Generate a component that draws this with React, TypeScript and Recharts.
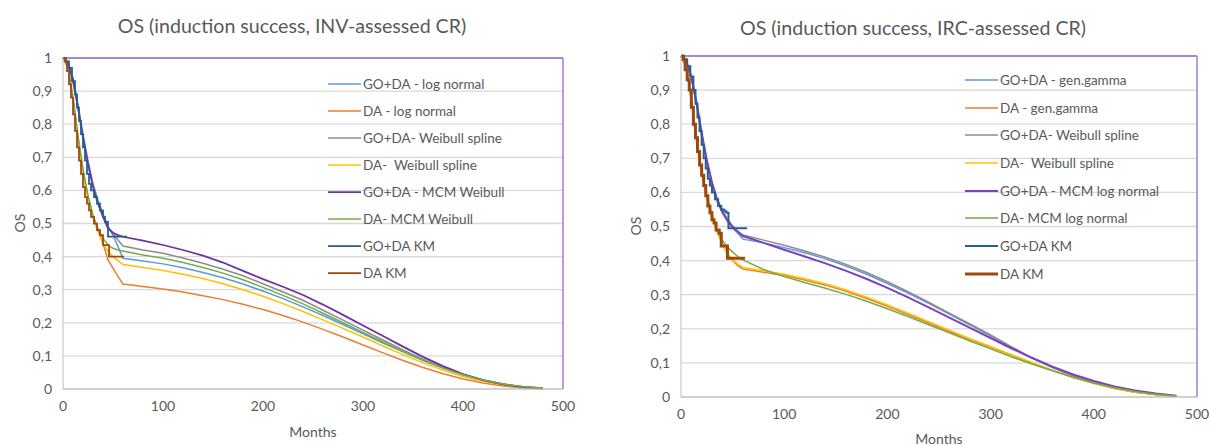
import React from "react";
import { LineChart, Line, XAxis, YAxis, CartesianGrid, ReferenceLine, Legend } from "recharts";

// model curves share one month grid: 0..55 by 5, then 60..480 by 20
const modelMonths = [
  0, 5, 10, 15, 20, 25, 30, 35, 40, 45, 50, 55,
  60, 80, 100, 120, 140, 160, 180, 200, 220, 240, 260, 280, 300, 320, 340, 360, 380, 400, 420, 440, 460, 480,
];

// INV-assessed CR (left)
const invGoDaLogNormal = [
  1, 0.985, 0.94, 0.86, 0.77, 0.69, 0.62, 0.57, 0.53, 0.49, 0.465, 0.43,
  0.395, 0.387, 0.378, 0.366, 0.352, 0.336, 0.317, 0.296, 0.273, 0.248, 0.222, 0.195, 0.167, 0.139, 0.112, 0.086, 0.063, 0.043, 0.027, 0.015, 0.007, 0.002,
];
const invDaLogNormal = [
  1, 0.97, 0.88, 0.76, 0.66, 0.58, 0.52, 0.48, 0.44, 0.39, 0.365, 0.34,
  0.317, 0.31, 0.302, 0.293, 0.282, 0.27, 0.256, 0.24, 0.222, 0.202, 0.18, 0.157, 0.133, 0.109, 0.086, 0.065, 0.046, 0.03, 0.018, 0.009, 0.004, 0.001,
];
const invGoDaWeibullSpline = [
  1, 0.98, 0.925, 0.85, 0.76, 0.68, 0.615, 0.565, 0.525, 0.49, 0.47, 0.45,
  0.432, 0.42, 0.41, 0.396, 0.38, 0.362, 0.342, 0.318, 0.293, 0.268, 0.238, 0.208, 0.178, 0.148, 0.118, 0.09, 0.065, 0.044, 0.027, 0.015, 0.007, 0.003,
];
const invDaWeibullSpline = [
  1, 0.97, 0.875, 0.75, 0.65, 0.575, 0.52, 0.475, 0.44, 0.415, 0.4, 0.388,
  0.376, 0.367, 0.358, 0.347, 0.334, 0.318, 0.3, 0.28, 0.258, 0.234, 0.209, 0.183, 0.157, 0.13, 0.104, 0.079, 0.057, 0.038, 0.023, 0.012, 0.005, 0.002,
];
const invGoDaMcmWeibull = [
  1, 0.985, 0.935, 0.85, 0.76, 0.68, 0.61, 0.56, 0.52, 0.485, 0.472, 0.465,
  0.46, 0.448, 0.435, 0.42, 0.403, 0.382, 0.357, 0.332, 0.309, 0.284, 0.255, 0.224, 0.192, 0.16, 0.128, 0.097, 0.069, 0.045, 0.027, 0.014, 0.006, 0.002,
];
const invDaMcmWeibull = [
  1, 0.97, 0.88, 0.765, 0.665, 0.585, 0.525, 0.485, 0.455, 0.435, 0.425, 0.42,
  0.417, 0.405, 0.395, 0.382, 0.367, 0.35, 0.33, 0.307, 0.283, 0.257, 0.229, 0.2, 0.171, 0.142, 0.114, 0.087, 0.063, 0.043, 0.027, 0.015, 0.007, 0.003,
];
const invGoDaKmMonths = [0, 3, 6, 9, 12, 14, 16, 18, 20, 22, 24, 26, 28, 31, 34, 37, 40, 42, 45, 64];
const invGoDaKm = [1, 0.99, 0.97, 0.93, 0.89, 0.85, 0.81, 0.77, 0.73, 0.69, 0.65, 0.62, 0.6, 0.58, 0.56, 0.54, 0.52, 0.505, 0.46, 0.46];
const invDaKmMonths = [0, 2, 4, 6, 8, 10, 12, 14, 16, 18, 20, 22, 24, 26, 28, 31, 34, 37, 40, 46, 61];
const invDaKm = [1, 0.99, 0.96, 0.92, 0.88, 0.83, 0.78, 0.73, 0.69, 0.65, 0.61, 0.58, 0.56, 0.54, 0.52, 0.5, 0.48, 0.465, 0.435, 0.4, 0.4];

// IRC-assessed CR (right)
const ircGoDaGenGamma = [
  1, 0.985, 0.935, 0.86, 0.77, 0.69, 0.625, 0.575, 0.54, 0.515, 0.495, 0.48,
  0.463, 0.452, 0.438, 0.423, 0.405, 0.384, 0.36, 0.333, 0.305, 0.275, 0.243, 0.211, 0.179, 0.146, 0.114, 0.086, 0.062, 0.042, 0.026, 0.015, 0.007, 0.003,
];
const ircDaGenGamma = [
  1, 0.97, 0.87, 0.75, 0.655, 0.585, 0.53, 0.485, 0.45, 0.42, 0.4, 0.385,
  0.375, 0.366, 0.356, 0.343, 0.328, 0.31, 0.289, 0.266, 0.242, 0.217, 0.192, 0.168, 0.146, 0.123, 0.1, 0.078, 0.057, 0.04, 0.025, 0.014, 0.007, 0.002,
];
const ircGoDaWeibullSpline = [
  1, 0.985, 0.935, 0.86, 0.77, 0.69, 0.625, 0.575, 0.54, 0.515, 0.497, 0.485,
  0.475, 0.46, 0.445, 0.428, 0.41, 0.389, 0.365, 0.338, 0.309, 0.278, 0.246, 0.214, 0.182, 0.148, 0.115, 0.086, 0.062, 0.042, 0.026, 0.015, 0.007, 0.003,
];
const ircDaWeibullSpline = [
  1, 0.97, 0.87, 0.75, 0.655, 0.585, 0.53, 0.485, 0.45, 0.42, 0.402, 0.39,
  0.38, 0.37, 0.36, 0.347, 0.332, 0.314, 0.293, 0.27, 0.246, 0.221, 0.196, 0.171, 0.148, 0.124, 0.101, 0.078, 0.057, 0.04, 0.025, 0.014, 0.007, 0.002,
];
const ircGoDaMcmLogNormal = [
  1, 0.985, 0.94, 0.865, 0.775, 0.695, 0.63, 0.58, 0.545, 0.52, 0.5, 0.485,
  0.472, 0.452, 0.432, 0.412, 0.392, 0.37, 0.346, 0.32, 0.292, 0.263, 0.233, 0.203, 0.173, 0.143, 0.115, 0.089, 0.066, 0.047, 0.031, 0.019, 0.01, 0.004,
];
const ircDaMcmLogNormal = [
  1, 0.97, 0.875, 0.76, 0.665, 0.59, 0.535, 0.49, 0.46, 0.44, 0.425, 0.412,
  0.402, 0.374, 0.353, 0.336, 0.319, 0.301, 0.281, 0.259, 0.236, 0.212, 0.188, 0.164, 0.141, 0.118, 0.097, 0.077, 0.058, 0.041, 0.027, 0.016, 0.008, 0.003,
];
const ircGoDaKmMonths = [0, 3, 6, 9, 12, 14, 16, 18, 20, 22, 24, 26, 28, 30, 33, 36, 39, 42, 44, 46, 64];
const ircGoDaKm = [1, 0.99, 0.97, 0.94, 0.9, 0.86, 0.82, 0.78, 0.74, 0.7, 0.67, 0.64, 0.62, 0.6, 0.58, 0.56, 0.55, 0.545, 0.54, 0.495, 0.495];
const ircDaKmMonths = [0, 2, 4, 6, 8, 10, 12, 14, 16, 18, 20, 22, 24, 26, 28, 30, 32, 34, 37, 39, 45, 62];
const ircDaKm = [1, 0.99, 0.96, 0.93, 0.9, 0.85, 0.8, 0.76, 0.72, 0.68, 0.65, 0.62, 0.59, 0.56, 0.54, 0.52, 0.51, 0.49, 0.48, 0.443, 0.407, 0.407];

const yTicks = [0, 0.1, 0.2, 0.3, 0.4, 0.5, 0.6, 0.7, 0.8, 0.9, 1];
const xTicks = [0, 100, 200, 300, 400, 500];

const FONT = "Lato, 'Open Sans', sans-serif";
const TEXT = "#595959";
const BORDER = "#9a66cc";

const toPoints = (months: number[], values: number[]) => months.map((t, i) => ({ t, s: values[i] }));

type Series = { name: string; months: number[]; values: number[]; color: string; width: number; step?: boolean };

const leftSeries: Series[] = [
  { name: "GO+DA - log normal", months: modelMonths, values: invGoDaLogNormal, color: "#5b9bd5", width: 1.5 },
  { name: "DA - log normal", months: modelMonths, values: invDaLogNormal, color: "#ed7d31", width: 1.5 },
  { name: "GO+DA- Weibull spline", months: modelMonths, values: invGoDaWeibullSpline, color: "#8c8c8c", width: 1.5 },
  { name: "DA-  Weibull spline", months: modelMonths, values: invDaWeibullSpline, color: "#ffc000", width: 1.5 },
  { name: "GO+DA - MCM Weibull", months: modelMonths, values: invGoDaMcmWeibull, color: "#7030a0", width: 1.75 },
  { name: "DA- MCM Weibull", months: modelMonths, values: invDaMcmWeibull, color: "#70ad47", width: 1.5 },
  { name: "GO+DA KM", months: invGoDaKmMonths, values: invGoDaKm, color: "#255e91", width: 1.75, step: true },
  { name: "DA KM", months: invDaKmMonths, values: invDaKm, color: "#9e480e", width: 1.75, step: true },
];

const rightSeries: Series[] = [
  { name: "GO+DA - gen.gamma", months: modelMonths, values: ircGoDaGenGamma, color: "#5b9bd5", width: 1.5 },
  { name: "DA - gen.gamma", months: modelMonths, values: ircDaGenGamma, color: "#ed7d31", width: 1.5 },
  { name: "GO+DA- Weibull spline", months: modelMonths, values: ircGoDaWeibullSpline, color: "#8c8c8c", width: 1.5 },
  { name: "DA-  Weibull spline", months: modelMonths, values: ircDaWeibullSpline, color: "#ffc000", width: 1.5 },
  { name: "GO+DA - MCM log normal", months: modelMonths, values: ircGoDaMcmLogNormal, color: "#7f3fbf", width: 2 },
  { name: "DA- MCM log normal", months: modelMonths, values: ircDaMcmLogNormal, color: "#70ad47", width: 1.5 },
  { name: "GO+DA KM", months: ircGoDaKmMonths, values: ircGoDaKm, color: "#255e91", width: 2, step: true },
  { name: "DA KM", months: ircDaKmMonths, values: ircDaKm, color: "#9e480e", width: 3, step: true },
];

const commaTick = (v: number) => String(v).replace(".", ",");

function LegendBox({ series, rowGap }: { series: Series[]; rowGap: number }) {
  return (
    <div style={{ fontFamily: FONT, fontSize: 13.5, color: TEXT }}>
      {series.map((s) => (
        <div key={s.name} style={{ display: "flex", alignItems: "center", height: rowGap }}>
          <svg width={33} height={6} style={{ flex: "none" }}>
            <line x1={0} x2={33} y1={3} y2={3} stroke={s.color} strokeWidth={s.width} />
          </svg>
          <span style={{ marginLeft: 2, whiteSpace: "pre" }}>{s.name}</span>
        </div>
      ))}
    </div>
  );
}

type PanelProps = {
  series: Series[];
  width: number;
  margin: { top: number; right: number; bottom: number; left: number };
  legendPos: { left: number; top: number };
  rowGap: number;
};

function Panel({ series, width, margin, legendPos, rowGap }: PanelProps) {
  return (
    <LineChart width={width} height={446} margin={margin}>
      <CartesianGrid vertical={false} stroke="#d9d9d9" strokeWidth={1.3} />
      <XAxis
        type="number"
        dataKey="t"
        domain={[0, 500]}
        ticks={xTicks}
        tickLine={false}
        tickSize={0}
        tickMargin={12}
        height={25}
        stroke="#bfbfbf"
        tick={{ fill: TEXT, fontSize: 14, fontFamily: FONT }}
      />
      <YAxis
        type="number"
        domain={[0, 1]}
        ticks={yTicks}
        tickFormatter={commaTick}
        tickLine={false}
        tickSize={0}
        tickMargin={11}
        width={30}
        stroke="#bfbfbf"
        tick={{ fill: TEXT, fontSize: 14, fontFamily: FONT }}
      />
      <ReferenceLine y={1} stroke={BORDER} strokeWidth={1.3} />
      <ReferenceLine x={500} stroke={BORDER} strokeWidth={1.3} />
      {series.map((s) => (
        <Line
          key={s.name}
          name={s.name}
          data={toPoints(s.months, s.values)}
          dataKey="s"
          type={s.step ? "stepAfter" : "linear"}
          stroke={s.color}
          strokeWidth={s.width}
          dot={false}
          activeDot={false}
          isAnimationActive={false}
        />
      ))}
      <Legend
        layout="vertical"
        align="center"
        verticalAlign="middle"
        wrapperStyle={{ left: legendPos.left, top: legendPos.top, width: 240, height: "auto" }}
        content={() => <LegendBox series={series} rowGap={rowGap} />}
      />
    </LineChart>
  );
}

const absText = (left: number, top: number, size: number, extra: React.CSSProperties = {}): React.CSSProperties => ({
  position: "absolute",
  left,
  top,
  fontFamily: FONT,
  fontSize: size,
  color: TEXT,
  whiteSpace: "nowrap",
  transform: "translate(-50%, -50%)",
  ...extra,
});

export default function App() {
  return (
    <div style={{ position: "absolute", left: 0, top: 0, width: 1210, height: 446, background: "#fff", overflow: "hidden" }}>
      <div style={{ position: "absolute", left: 0, top: 0 }}>
        <Panel
          series={leftSeries}
          width={600}
          margin={{ top: 58, right: 37, bottom: 32, left: 33 }}
          legendPos={{ left: 328, top: 70 }}
          rowGap={27}
        />
      </div>
      <div style={{ position: "absolute", left: 605, top: 0 }}>
        <Panel
          series={rightSeries}
          width={605}
          margin={{ top: 56, right: 13, bottom: 24, left: 46 }}
          legendPos={{ left: 360, top: 66 }}
          rowGap={27.7}
        />
      </div>
      <div style={absText(292, 25, 19.6)}>OS (induction success, INV-assessed CR)</div>
      <div style={absText(913, 27, 19.6)}>OS (induction success, IRC-assessed CR)</div>
      <div style={absText(313, 431, 14)}>Months</div>
      <div style={absText(939, 438, 14)}>Months</div>
      <div style={absText(19, 223, 14, { transform: "translate(-50%, -50%) rotate(-90deg)" })}>OS</div>
      <div style={absText(635, 226, 14, { transform: "translate(-50%, -50%) rotate(-90deg)" })}>OS</div>
    </div>
  );
}
